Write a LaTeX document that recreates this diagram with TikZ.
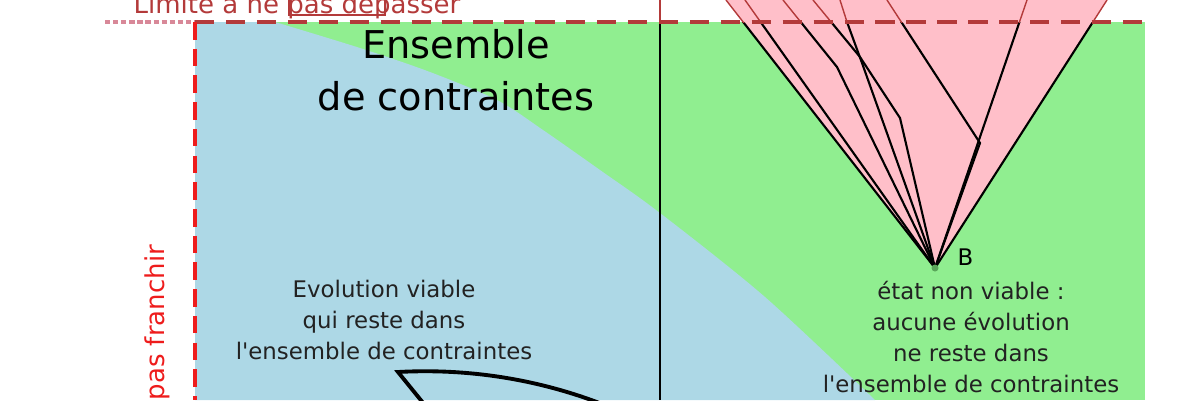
\documentclass[tikz,border=0pt]{standalone}
\usepackage{fontspec}
\setmainfont{DejaVu Sans}
\usetikzlibrary{positioning}

\definecolor{vertK}{HTML}{90EE90}
\definecolor{bleuK}{HTML}{ADD8E6}
\definecolor{roseC}{HTML}{FFBFC9}
\definecolor{rougeLim}{HTML}{B33A3A}
\definecolor{rougeVif}{HTML}{EE1C1C}
\definecolor{rosePointill}{HTML}{D88898}
\definecolor{grisTxt}{HTML}{222222}

% les evolutions issues de B (et les autres traits fins)
\newcommand{\faisceau}{%
  \draw (B) -- (726,0);
  \draw (B) -- (745,0);
  \draw (B) -- (837,67) -- (783,0);
  \draw (B) -- (900,118) -- (860,57) -- (813,0);
  \draw (B) -- (862,63) -- (847,22) -- (840,0);
  \draw (B) -- (980,143) -- (887,0);
  \draw (B) -- (1027,0);
  \draw (B) -- (1107,0);
  \draw (289,0) -- (289,15) -- (385,15) -- (385,0);
}

\tikzset{
  titre/.style={align=center, inner sep=0pt, text=black,
    font=\fontsize{10.9pt}{14.8pt}\selectfont},
  commentaire/.style={align=center, inner sep=0pt, text=grisTxt,
    font=\fontsize{6.5pt}{8.8pt}\selectfont},
  limtxt/.style={inner sep=0pt, font=\fontsize{7.4pt}{9pt}\selectfont},
  limite/.style={draw=rougeLim, line width=1.15pt, dash pattern=on 5.5pt off 3.3pt},
  franchir/.style={draw=rougeVif, line width=0.9pt, dash pattern=on 5pt off 2.6pt},
  trajviable/.style={draw=black, line width=1.1pt, line join=miter},
}

\begin{document}
\begin{tikzpicture}[x=0.1mm,y=-0.1mm]
\useasboundingbox (0,0) rectangle (1200,400);
\clip (0,0) rectangle (1200,400);

% ensemble de contraintes : zone viable (bleu) et non viable (vert)
\fill[vertK] (195,22) rectangle (1145,400);
\fill[bleuK] (195,22) -- plot[smooth] coordinates {(275,22) (360,48) (430,72) (497,100)
   (543,130) (600,170) (660,213) (765,297) (875,400)} -- (195,400) -- cycle;

\coordinate (B) at (935,268);
\fill[roseC] (726,0) -- (B) -- (1107,0) -- cycle;

% dans l'ensemble : traits noirs
\begin{scope}
  \clip (0,22) rectangle (1200,400);
  \begin{scope}[black, line width=0.6pt]
    \faisceau
  \end{scope}
  \draw[black, line width=0.7pt] (660,0) -- (660,400);
\end{scope}
% hors de l'ensemble : traits rouges
\begin{scope}
  \clip (0,0) rectangle (1200,22);
  \begin{scope}[rougeLim, line width=0.4pt]
    \faisceau
    \draw (660,0) -- (660,400);
  \end{scope}
\end{scope}

% evolution viable
\coordinate (A) at (398,372);
\draw[trajviable] (424,404) -- (A) .. controls (470,368) and (540,380) .. (602,404);

% limites
\draw[rosePointill, line width=1pt, dash pattern=on 1.5pt off 0.8pt] (105,22) -- (195,22);
\draw[limite] (195,22) -- (1145,22);
\draw[franchir] (195,22) -- (195,400);

% textes
\node[limtxt, text=rougeLim, anchor=base] (depasser) at (297,13) {Limite à ne pas dépasser};
\node[limtxt, text=rougeVif, rotate=90, anchor=base west] (franchirTxt) at (164,401) {pas franchir};
\node[titre] (ensemble) at (456,70) {Ensemble\\de contraintes};
\node[commentaire] (viable) at (384,320) {Evolution viable\\qui reste dans\\l\textquotesingle ensemble de contraintes};
\node[commentaire] (nonviable) at (971,337) {état non viable :\\aucune évolution\\ne reste dans\\l\textquotesingle ensemble de contraintes};

% etat B
\fill[gray!70!green] (B) circle (0.35mm);
\node[commentaire, text=black, anchor=base west] (labB) at ([xshift=2.2mm,yshift=0.3mm]B) {B};
\end{tikzpicture}
\end{document}
